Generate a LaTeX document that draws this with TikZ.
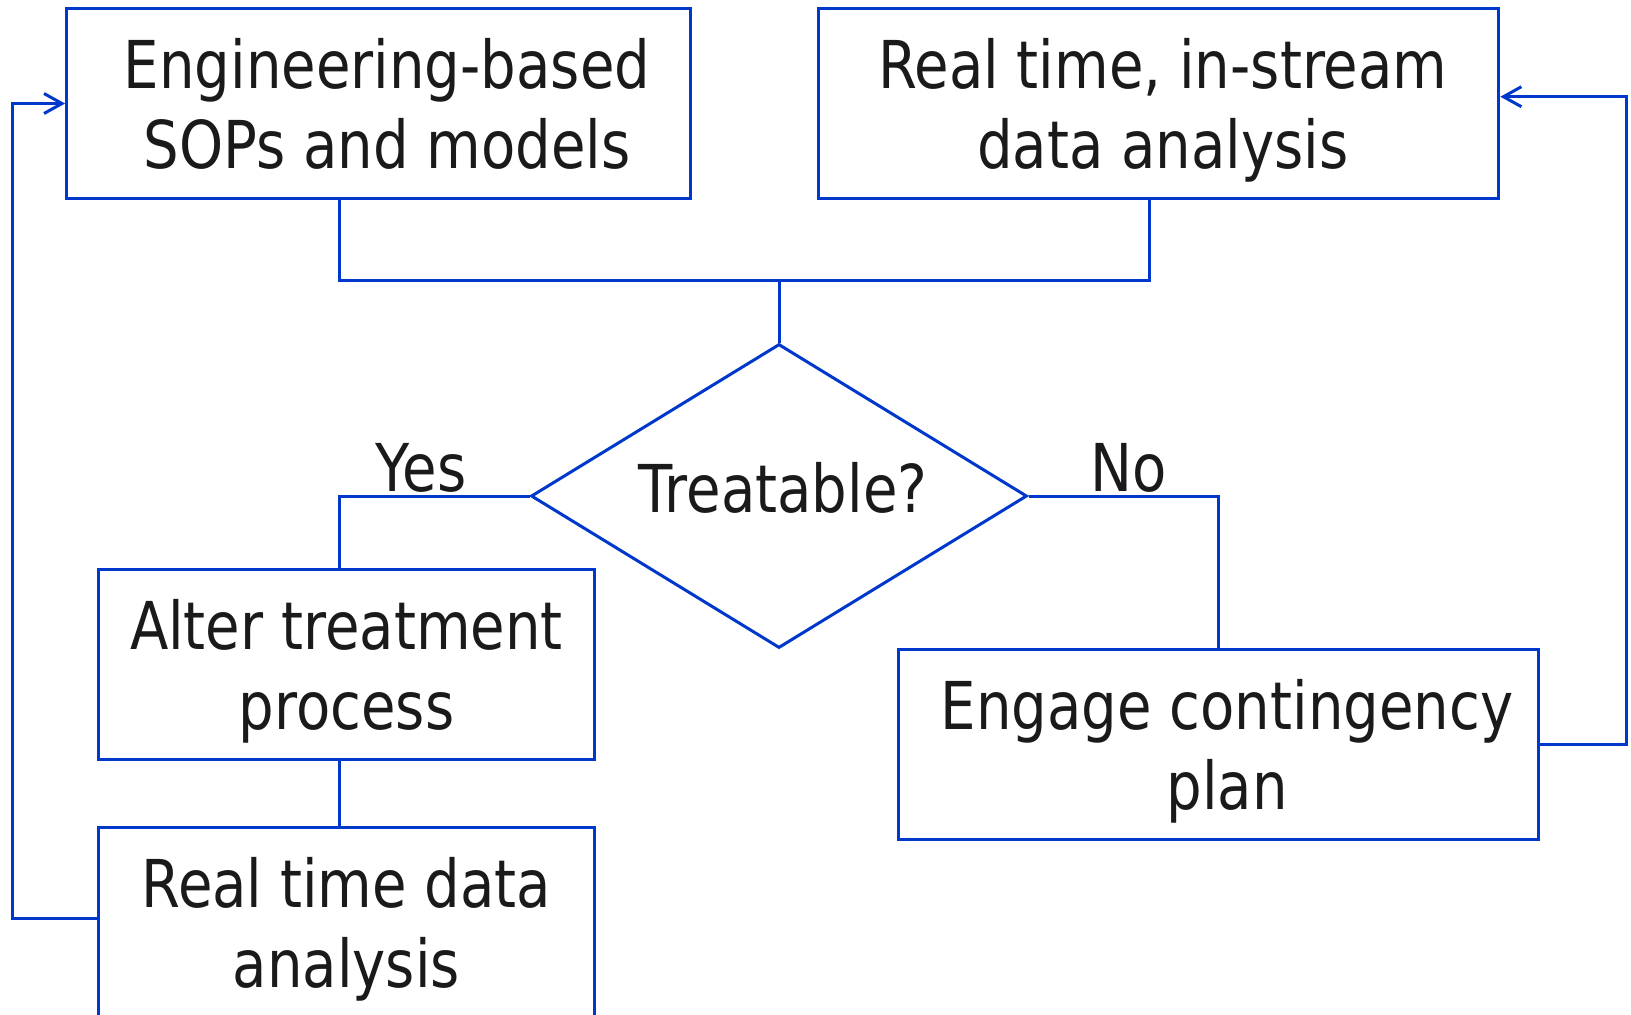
\documentclass[tikz,border=0pt]{standalone}
\usepackage{fontspec}
\setmainfont{DejaVu Sans}[FakeStretch=0.85]
\usetikzlibrary{shapes.geometric,arrows.meta}
\definecolor{flowblue}{RGB}{0,56,204}
\definecolor{inkgray}{RGB}{26,26,26}
\newcommand{\nudge}{\hspace*{8.4pt}}
\newcommand{\linetop}{\rule{0pt}{33pt}}
\newcommand{\linebot}{\rule[-8pt]{0pt}{8pt}}
\tikzset{
    box/.style={draw=flowblue,line width=1.5pt,rectangle,align=center,
        minimum height=95pt,inner sep=0pt,text=inkgray,
        font=\fontsize{33}{40}\selectfont},
    decision/.style={draw=flowblue,line width=1.5pt,diamond,inner sep=0pt,
        aspect=1.63,minimum width=248pt,minimum height=152pt,text=inkgray,
        font=\fontsize{33}{40}\selectfont},
    link/.style={draw=flowblue,line width=1.5pt},
    back/.style={link,-{Straight Barb[length=9pt,width=10pt]}},
    answer/.style={text=inkgray,font=\fontsize{33}{40}\selectfont}
}
\begin{document}
\begin{tikzpicture}[x=0.5pt,y=-0.5pt]
    \useasboundingbox (0,0) rectangle (1631,1014);
    %% Boxes
    \node[box,minimum width=312pt] (eng) at (378.6,103.5)
        {\linetop\nudge Engineering-based\\\nudge SOPs and models\linebot};
    \node[box,minimum width=340pt] (rts) at (1158.8,103.5)
        {\linetop\hspace*{4pt}Real time, in-stream\\
         \hspace*{4pt}data analysis\linebot};
    \node[decision] (test) at (779,496)
        {\raisebox{4.2pt}[\height][\depth]{\hspace{4pt}Treatable?}};
    \node[box,minimum width=247.6pt] (alter) at (346.4,664.2)
        {\linetop Alter treatment\\process\linebot};
    \node[box,minimum width=247.6pt] (rtd) at (346.4,922)
        {\linetop Real time data\\analysis\linebot};
    \node[box,minimum width=320pt] (plan) at (1218.6,744.7)
        {\linetop\nudge Engage contingency\\\nudge plan\linebot};
    %% Answers
    \node[answer] (yes) at (421,468) {Yes};
    \node[answer] (no) at (1129,468) {No};
    %% Merge of the two sources
    \coordinate (mergeL) at (339,280);
    \coordinate (mergeR) at (1149,280);
    \draw[link] (mergeL |- eng.south) -- (mergeL) -- (mergeR)
        -- (mergeR |- rts.south);
    \draw[link] (mergeL -| test.north) -- (test.north);
    %% Yes and No branches
    \draw[link] (test.west) -| ([xshift=-3.7pt]alter.north);
    \draw[link] ([xshift=-3.7pt]alter.south) -- ([xshift=-3.7pt]rtd.north);
    \draw[link] (test.east) -| (plan.north);
    %% Feedback loops
    \coordinate (backL) at (12.5,0);
    \coordinate (backR) at (1626,0);
    \draw[back] ([yshift=2pt]rtd.west) -- ([yshift=2pt]rtd.west -| backL)
        |- (eng.west);
    \draw[back] (plan.east) -- (plan.east -| backR)
        |- ([yshift=3.4pt]rts.east);
\end{tikzpicture}
\end{document}
